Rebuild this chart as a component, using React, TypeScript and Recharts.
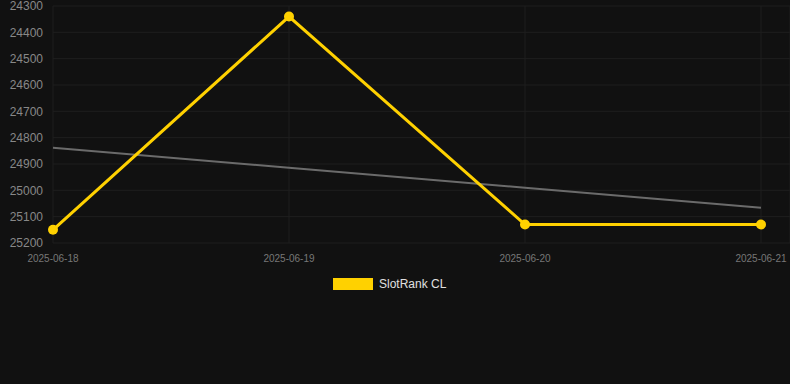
import { CartesianGrid, Line, LineChart, XAxis, YAxis } from "recharts";

const dates = ["2025-06-18", "2025-06-19", "2025-06-20", "2025-06-21"];
const rankValues = [25150, 24340, 25130, 25130];
const trendValues = [24838, 24914, 24990, 25066];
const yTicks = [24300, 24400, 24500, 24600, 24700, 24800, 24900, 25000, 25100, 25200];

const data = dates.map((date, i) => ({ date, rank: rankValues[i], trend: trendValues[i] }));

export default function App() {
  return (
    <div style={{ width: 790, height: 384, background: "#111111", position: "relative", fontFamily: "'Liberation Sans', Arial, sans-serif" }}>
      <style>{`body { margin: 0; background: #111111; }`}</style>
      <LineChart width={790} height={270} data={data} margin={{ top: 6, right: 0, left: 0, bottom: 0 }}>
        <CartesianGrid stroke="#1f1f1f" strokeWidth={1} />
        <XAxis
          dataKey="date"
          height={27}
          padding={{ left: 0, right: 29 }}
          axisLine={false}
          tickLine={false}
          tickMargin={6}
          tick={{ fill: "#777777", fontSize: 10 }}
          interval={0}
        />
        <YAxis
          width={53}
          domain={[24300, 25200]}
          ticks={yTicks}
          reversed
          axisLine={false}
          tickLine={false}
          tickMargin={4}
          tick={{ fill: "#888888", fontSize: 12 }}
          interval={0}
        />
        <Line
          type="linear"
          dataKey="trend"
          stroke="#6b6b6b"
          strokeWidth={2}
          dot={false}
          activeDot={false}
          isAnimationActive={false}
        />
        <Line
          type="linear"
          dataKey="rank"
          stroke="#ffd100"
          strokeWidth={3}
          dot={{ r: 5, fill: "#ffd100", stroke: "#ffd100", strokeWidth: 0 }}
          activeDot={false}
          isAnimationActive={false}
        />
      </LineChart>
      <div style={{ position: "absolute", left: 333, top: 278, display: "flex", alignItems: "center", gap: 6 }}>
        <div style={{ width: 40, height: 12, background: "#ffd100" }} />
        <span style={{ color: "#e0e0e0", fontSize: 12, lineHeight: "12px" }}>SlotRank CL</span>
      </div>
    </div>
  );
}
